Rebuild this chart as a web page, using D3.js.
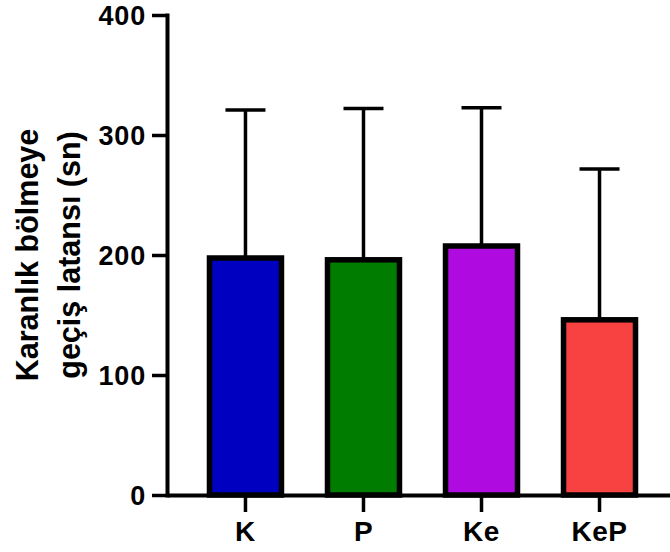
<!DOCTYPE html>
<html>
<head>
<meta charset="utf-8">
<script src="https://cdn.jsdelivr.net/npm/d3@7"></script>
<style>
  html, body { margin: 0; padding: 0; background: #fff; }
  svg { display: block; }
  text { font-family: "Liberation Sans", Arial, sans-serif; font-weight: bold; fill: #000; }
</style>
</head>
<body>
<svg id="chart" width="670" height="552"></svg>
<script>
const categories = ["K", "P", "Ke", "KeP"];
const means = [197.5, 196, 207.5, 146];
const sds = [123.3, 126, 115.2, 125.7];
const colors = ["#0000C0", "#007C00", "#AF0BE0", "#F84141"];
const yTicks = [0, 100, 200, 300, 400];
const yTitleLines = ["Karanlık bölmeye", "geçiş latansı (sn)"];

const svg = d3.select("#chart");
const x0 = 167, yTop = 15, yBot = 495;

const y = d3.scaleLinear().domain([0, 400]).range([yBot, yTop]);
const x = d3.scaleBand().domain(categories).range([x0, 678]).paddingInner(0.39).paddingOuter(0.36);

const data = categories.map((c, i) => ({ c, m: means[i], sd: sds[i], color: colors[i] }));

// error bars
const eb = svg.append("g").attr("stroke", "#000").attr("stroke-width", 3.5).attr("fill", "none");
data.forEach(d => {
  const cx = x(d.c) + x.bandwidth() / 2;
  eb.append("line").attr("x1", cx).attr("x2", cx).attr("y1", y(d.m)).attr("y2", y(d.m + d.sd));
  eb.append("line").attr("x1", cx - 20).attr("x2", cx + 20).attr("y1", y(d.m + d.sd)).attr("y2", y(d.m + d.sd));
});

// bars
svg.append("g").selectAll("rect").data(data).join("rect")
  .attr("x", d => x(d.c))
  .attr("width", x.bandwidth())
  .attr("y", d => y(d.m))
  .attr("height", d => y(0) - y(d.m))
  .attr("fill", d => d.color)
  .attr("stroke", "#000")
  .attr("stroke-width", 5.5);

// y axis
const yAxis = svg.append("g").attr("transform", `translate(${x0},0)`)
  .call(d3.axisLeft(y).tickValues(yTicks).tickSize(15).tickSizeOuter(0).tickPadding(6));
yAxis.select(".domain").attr("stroke-width", 4).attr("stroke-linecap", "square");
yAxis.selectAll(".tick line").attr("stroke-width", 3.5);
yAxis.selectAll(".tick text").attr("font-size", 27).attr("letter-spacing", 0.8)
  .attr("font-family", "'Liberation Sans', Arial, sans-serif").attr("font-weight", "bold")
  .attr("dy", "0.36em");

// x axis
const xAxis = svg.append("g").attr("transform", `translate(0,${yBot})`)
  .call(d3.axisBottom(x).tickSize(17).tickSizeOuter(0).tickPadding(9));
xAxis.select(".domain").attr("stroke-width", 4);
xAxis.selectAll(".tick line").attr("stroke-width", 3.5);
xAxis.selectAll(".tick text").attr("font-size", 28).attr("letter-spacing", 0.5)
  .attr("font-family", "'Liberation Sans', Arial, sans-serif").attr("font-weight", "bold")
  .attr("dy", "0.71em");

// y title
const t = svg.append("text")
  .attr("transform", `translate(38,${(yTop + yBot) / 2}) rotate(-90)`)
  .attr("text-anchor", "middle")
  .attr("font-size", 30.5);
yTitleLines.forEach((l, i) => {
  t.append("tspan").attr("x", 0).attr("dy", i === 0 ? 0 : 42).text(l);
});
</script>
</body>
</html>
